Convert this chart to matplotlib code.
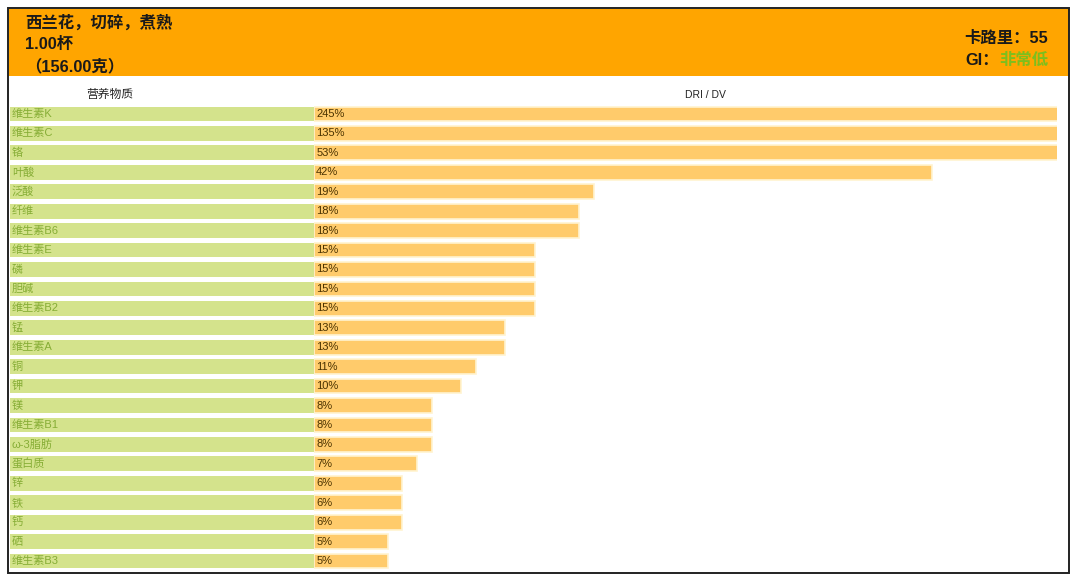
import matplotlib
matplotlib.use("Agg")
import matplotlib.pyplot as plt
from matplotlib.patches import Rectangle

# latin en Liberation Sans (tipo Arial), chino en Noto CJK
plt.rcParams['font.family'] = ['Liberation Sans', 'Noto Sans CJK SC', 'DejaVu Sans']

# datos
营养物质 = ["维生素K", "维生素C", "铬", "叶酸", "泛酸", "纤维", "维生素B6", "维生素E",
         "磷", "胆碱", "维生素B2", "锰", "维生素A", "铜", "钾", "镁", "维生素B1",
         "ω-3脂肪", "蛋白质", "锌", "铁", "钙", "硒", "维生素B3"]
dri = [245, 135, 53, 42, 19, 18, 18, 15, 15, 15, 15, 13, 13, 11, 10, 8, 8, 8, 7, 6, 6, 6, 5, 5]
dri_labels = [f"{v}%" for v in dri]

titulo = ["西兰花，切碎，煮熟", "1.00杯", "（156.00克）"]
calorias = "卡路里：55"
gi = "非常低"

W, H = 1080, 580
fig = plt.figure(figsize=(W / 100, H / 100), dpi=100)


def px(x, y):
    # pixeles -> fraccion de figura
    return x / W, 1 - y / H


# cabecera naranja y marco
fig.patches.append(Rectangle((9 / W, 1 - 76 / H), 1060 / W, 67 / H,
                             transform=fig.transFigure, facecolor='#FFA500',
                             edgecolor='none', zorder=0))
fig.patches.append(Rectangle((8 / W, 1 - 573 / H), 1061 / W, 565 / H,
                             transform=fig.transFigure, facecolor='none',
                             edgecolor='#222222', linewidth=1.4, zorder=5))

for t, yy in zip(titulo, [22, 44, 66]):
    fig.text(*px(25, yy), t, ha='left', va='center', fontsize=11.8,
             fontweight='bold', color='#1a1a1a')

fig.text(*px(1048, 38), calorias, ha='right', va='center', fontsize=11.8,
         fontweight='bold', color='#1a1a1a')
t_gi = fig.text(*px(1048, 60), gi, ha='right', va='center', fontsize=11.8,
                fontweight='bold', color='#7cbf1e')
# "GI：" justo a la izquierda de "非常低"
fig.canvas.draw()
bb = t_gi.get_window_extent()
fig.text(bb.x0 / W, 1 - 60 / H, "GI：", ha='right', va='center', fontsize=11.8,
         fontweight='bold', color='#1a1a1a')

# encabezados de columnas
fig.text(*px(110, 95), "营养物质", ha='center', va='center', fontsize=8.5, color='#222222')
fig.text(*px(705, 95), "DRI / DV", ha='center', va='center', fontsize=7.5, color='#222222')

n = len(营养物质)
row = (561 - 114) / (n - 1)
top = 114 - row / 2
bottom = 561 + row / 2
ax_b = (H - bottom) / H
ax_h = (bottom - top) / H

# columna izquierda (barras verdes)
axl = fig.add_axes([10 / W, ax_b, 304 / W, ax_h])
axl.barh(range(n), [1] * n, height=0.76, color='#d4e38c', left=0)
axl.set_xlim(0, 1)
axl.set_ylim(n - 0.5, -0.5)
for i, name in enumerate(营养物质):
    axl.text(0.006, i, name, ha='left', va='center', fontsize=8, color='#86ad35')
axl.axis('off')

# columna derecha (barras naranjas)
axr = fig.add_axes([314 / W, ax_b, 743 / W, ax_h])
axr.barh(range(n), dri, height=0.76, color='#ffcb6b', edgecolor='#fff3d0',
         linewidth=1.2)
axr.set_xlim(0, 50.5)
axr.set_ylim(n - 0.5, -0.5)
for i, lab in enumerate(dri_labels):
    axr.text(0.15, i, lab, ha='left', va='center', fontsize=8, color='#4a3200')
axr.axis('off')

fig.savefig("out.png", dpi=100)
